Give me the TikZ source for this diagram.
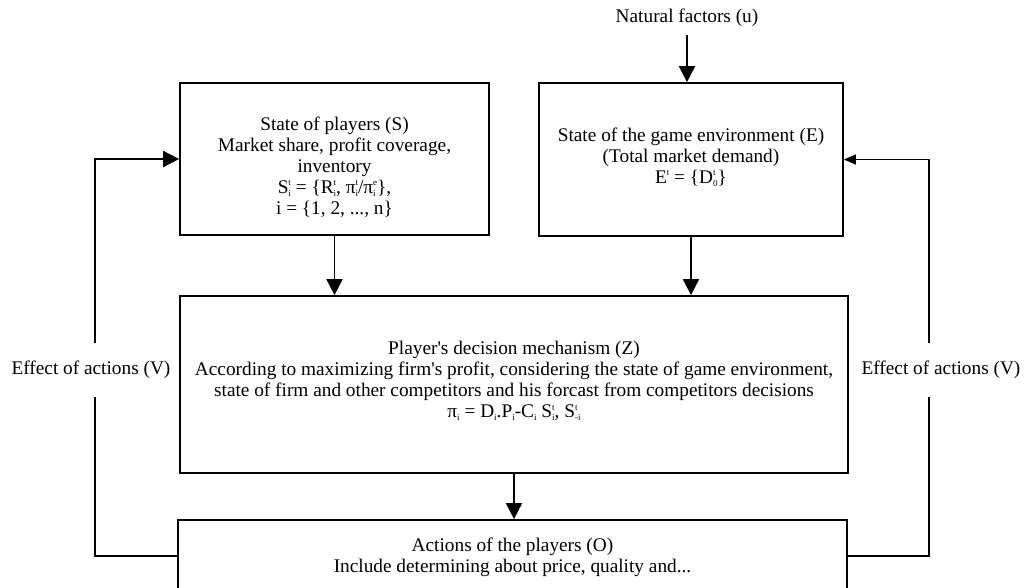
\documentclass[tikz,border=0pt]{standalone}
\usepackage{fontspec}
\setmainfont{Liberation Serif}
\usetikzlibrary{arrows.meta}

% stacked superscript / subscript, as in S^t_i
\newcommand{\supsb}[2]{{\fontsize{9}{9}\selectfont
  \setbox0=\hbox{\raisebox{0.85em}{#1}}%
  \setbox2=\hbox{\raisebox{-0.3em}{#2}}%
  \ifdim\wd0>\wd2\relax\rlap{\box2}\box0\else\rlap{\box0}\box2\fi}}
\newcommand{\sbonly}[1]{{\fontsize{9}{9}\selectfont\raisebox{-0.3em}{#1}}}

\begin{document}
\begin{tikzpicture}[x=1pt,y=-1pt,
  every node/.style={font=\fontsize{19.3}{21}\selectfont, align=center, inner sep=0pt},
  block/.style={draw, line width=1.7pt, fill=white},
  arr/.style={line width=1.7pt, -{Triangle[length=16pt,width=16pt]}},
  thinarr/.style={line width=1.3pt, -{Triangle[length=12pt,width=10pt]}},
  cut/.style={fill=white, inner xsep=2pt, inner ysep=18pt}]
  \useasboundingbox (0,0) rectangle (1025,587);

  % blocks
  \node[block, minimum width=309pt, minimum height=152pt] (S) at (334.5,159) {};
  \node[block, minimum width=304pt, minimum height=153pt] (E) at (691,159.5) {};
  \node[block, minimum width=668pt, minimum height=177pt] (Z) at (514,384.5) {};
  \node[block, minimum width=669pt, minimum height=72pt] (O) at (512.5,556) {};

  % block texts
  \node (St) at (334.5,167) {State of players (S)\\
    Market share, profit coverage,\\ inventory\\
    S\supsb{t}{i} = \{R\supsb{t}{i}, π\supsb{t}{i}/π\supsb{e}{i}\},\\
    i = \{1, 2, ..., n\}};
  \node (Et) at (691,157) {State of the game environment (E)\\
    (Total market demand)\\ E\supsb{t}{} = \{D\supsb{t}{0}\}};
  \node (Zt) at (514,381) {Player\textquotesingle s decision mechanism (Z)\\
    According to maximizing firm\textquotesingle s profit, considering the state of game environment,\\
    state of firm and other competitors and his forcast from competitors decisions\\
    π\sbonly{i} = D\sbonly{i}.P\sbonly{i}-C\sbonly{i} S\supsb{t}{i}, S\supsb{t}{-i}};
  \node (Ot) at (512.5,557) {Actions of the players (O)\\
    Include determining about price, quality and...};

  \node (nat) at (687,18) {Natural factors (u)};

  % forward flow
  \draw[arr] ([yshift=-8pt]nat.south) -- (nat.south |- E.north);
  \draw[arr] (S.south) -- (S.south |- Z.north);
  \draw[arr] (E.south) -- (E.south |- Z.north);
  \draw[arr] (Z.south) -- (Z.south |- O.north);

  % feedback loops
  \draw[arr] (O.west) -- ++(-82,0) coordinate (lb) |- (S.west);
  \draw[thinarr] (O.east) -- ++(81,0) coordinate (rb) |- (E.east);
  \node[cut] (vl) at (91,370) {Effect of actions (V)};
  \node[cut] (vr) at (941,370) {Effect of actions (V)};
\end{tikzpicture}
\end{document}
